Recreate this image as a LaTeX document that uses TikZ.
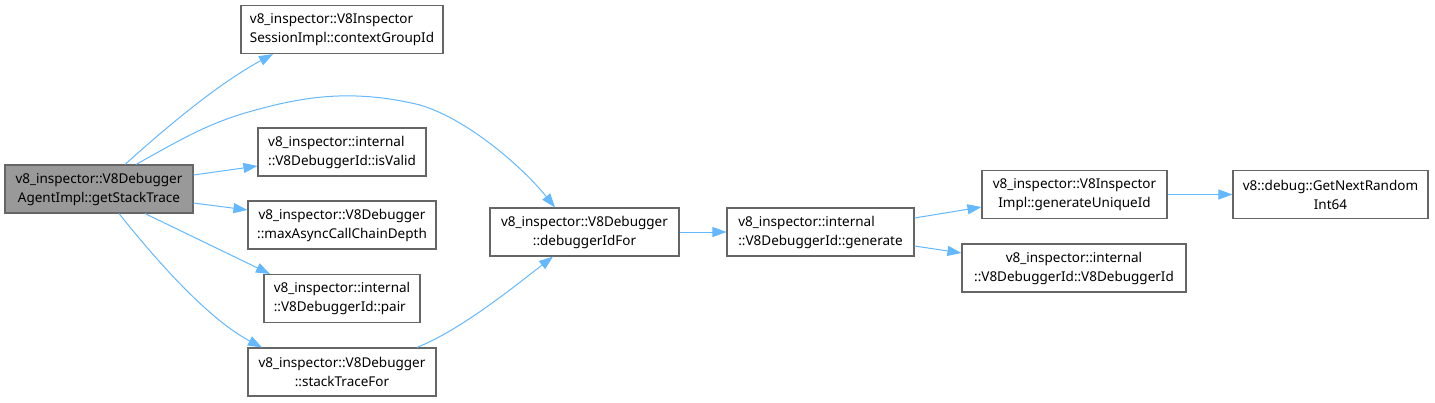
\documentclass[tikz,border=0pt]{standalone}
\usepackage{fontspec}
\setmainfont{Noto Sans}
\usetikzlibrary{arrows.meta}
\definecolor{edgeblue}{HTML}{63B8FF}
\definecolor{boxgray}{HTML}{666666}
\definecolor{mainfill}{HTML}{999999}

\begin{document}
\begin{tikzpicture}[x=1pt, y=-1pt,
  fn/.style={draw=boxgray, line width=1.1pt, fill=white, minimum height=48pt, inner sep=2pt, font=\fontsize{13.5}{19}\selectfont},
  call/.style={draw=edgeblue, line width=1pt, -{Triangle[length=14pt,width=10pt]}}]
\useasboundingbox (0,0) rectangle (1435,402);

\node[fn, fill=mainfill, align=center, minimum width=188pt] (main) at (99,189) {v8\_inspector::V8Debugger\\AgentImpl::getStackTrace};
\node[fn, align=left, minimum width=202pt] (ctx) at (342,29.5) {v8\_inspector::V8Inspector\\SessionImpl::contextGroupId};
\node[fn, align=left, minimum width=168pt] (valid) at (342,152) {v8\_inspector::internal\\::V8DebuggerId::isValid};
\node[fn, align=center, minimum width=188pt] (depth) at (342,225) {v8\_inspector::V8Debugger\\::maxAsyncCallChainDepth};
\node[fn, align=left, minimum width=156pt] (pair) at (342,298.5) {v8\_inspector::internal\\::V8DebuggerId::pair};
\node[fn, align=center, minimum width=188pt] (trace) at (342,372) {v8\_inspector::V8Debugger\\::stackTraceFor};
\node[fn, align=center, minimum width=189pt] (idfor) at (584.5,232) {v8\_inspector::V8Debugger\\::debuggerIdFor};
\node[fn, align=left, minimum width=187pt] (gen) at (820.5,232) {v8\_inspector::internal\\::V8DebuggerId::generate};
\node[fn, align=center, minimum width=185pt] (uid) at (1074.5,194.5) {v8\_inspector::V8Inspector\\Impl::generateUniqueId};
\node[fn, align=center, minimum width=224pt] (ctor) at (1074,268) {v8\_inspector::internal\\::V8DebuggerId::V8DebuggerId};
\node[fn, align=center, minimum width=195pt] (rnd) at (1330.5,194.5) {v8::debug::GetNextRandom\\Int64};

% calls out of getStackTrace
\draw[call] ([xshift=26pt]main.north) .. controls (180,115) and (225,80) .. ([xshift=-69pt]ctx.south);
\draw[call] ([xshift=37pt]main.north) .. controls (180,140) and (205,125) .. (245,113)
  .. controls (300,97) and (350,88) .. (420,105)
  .. controls (470,120) and (525,170) .. ([xshift=-29.5pt]idfor.north);
\draw[call] ([yshift=14pt]main.east) -- ([yshift=-14pt]valid.west);
\draw[call] ([yshift=-14pt]main.east) -- ([yshift=15pt]depth.west);
\draw[call] ([xshift=46pt]main.south) -- ([xshift=-72pt]pair.north);
\draw[call] ([xshift=20pt]main.south) .. controls (160,265) and (210,320) .. ([xshift=-80pt]trace.north);

\draw[call] ([xshift=75pt]trace.north) .. controls (460,330) and (510,290) .. ([xshift=-31.5pt]idfor.south);
\draw[call] (idfor) -- (gen);
\draw[call] ([yshift=14pt]gen.east) -- ([yshift=-12.5pt]uid.west);
\draw[call] ([yshift=-14pt]gen.east) -- ([yshift=15pt]ctor.west);
\draw[call] (uid) -- (rnd);
\end{tikzpicture}
\end{document}
